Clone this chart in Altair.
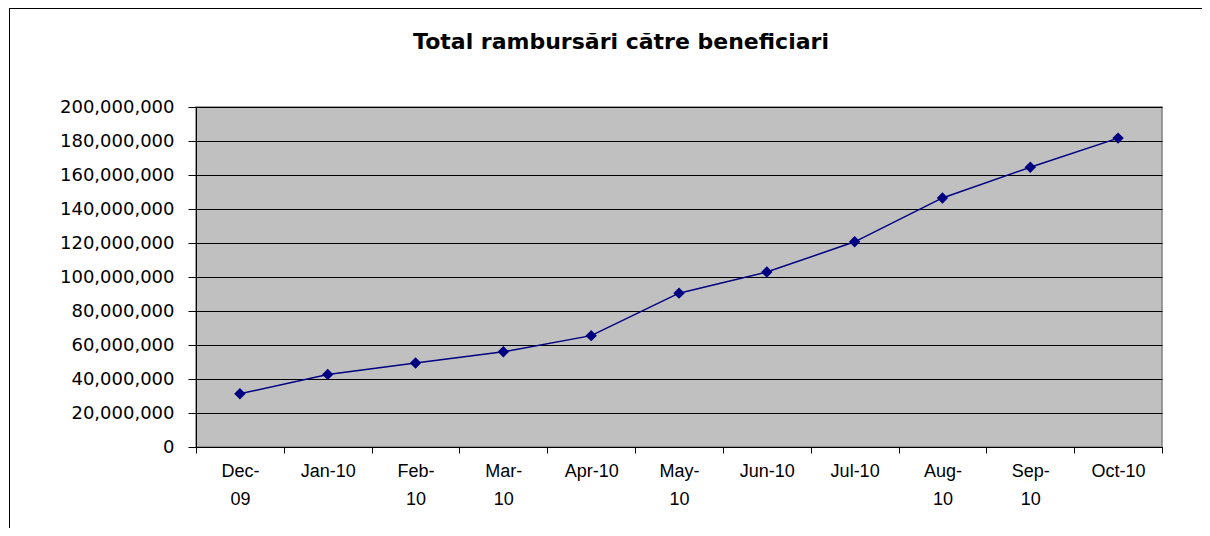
import json
import altair as alt
import pandas as pd

# ---- data ----
months = ["Dec-09", "Jan-10", "Feb-10", "Mar-10", "Apr-10", "May-10",
          "Jun-10", "Jul-10", "Aug-10", "Sep-10", "Oct-10"]
values = [31300000, 42700000, 49400000, 56000000, 65500000, 90500000,
          102900000, 120700000, 146500000, 164600000, 181700000]
wrapped = ["Dec-09", "Feb-10", "Mar-10", "May-10", "Aug-10", "Sep-10"]
y_ticks = [0, 20000000, 40000000, 60000000, 80000000, 100000000,
           120000000, 140000000, 160000000, 180000000, 200000000]
title_text = "Total rambursări către beneficiari"

df = pd.DataFrame({"idx": list(range(len(months))), "month": months, "value": values})

label_list = [[m[:4], m[4:]] if m in wrapped else m for m in months]
label_expr = json.dumps(label_list, ensure_ascii=False) + "[round(datum.value)]"
band_edges = [i - 0.5 for i in range(len(months) + 1)]

W, H = 966, 340
PAD_L, PAD_T = 188, 99
PAD_R = 1194 - PAD_L - W
PAD_B = 520 - PAD_T - H

x_scale = alt.Scale(domain=[-0.5, len(months) - 0.5], nice=False, zero=False)
y_scale = alt.Scale(domain=[0, 200000000], nice=False)

y_axis = alt.Axis(values=y_ticks, labelExpr="format(datum.value, ',')", title=None,
                  labelFont="DejaVu Sans", labelFontSize=18, labelColor="black",
                  labelPadding=14, tickSize=8, tickColor="black",
                  domainColor="black", gridColor="black", gridWidth=1,
                  grid=True, labelOverlap=False)

base = alt.Chart(df)

line = base.mark_line(color="#000080", strokeWidth=1.5).encode(
    x=alt.X("idx:Q", scale=x_scale,
            axis=alt.Axis(orient="bottom", values=band_edges, labels=False,
                          ticks=True, tickSize=6, tickColor="black",
                          domain=True, domainColor="black", grid=False,
                          title=None)),
    y=alt.Y("value:Q", scale=y_scale, axis=y_axis),
)

points = base.mark_point(shape="diamond", filled=True, color="#000080",
                         size=130, opacity=1).encode(
    x=alt.X("idx:Q", scale=x_scale,
            axis=alt.Axis(orient="bottom", values=list(range(len(months))),
                          labelExpr=label_expr, ticks=False, domain=False,
                          grid=False, title=None,
                          labelFont="Liberation Sans Narrow, Arial",
                          labelFontSize=18, labelColor="black",
                          labelBaseline="top", labelPadding=15,
                          labelLineHeight=28)),
    y=alt.Y("value:Q", scale=y_scale, axis=y_axis),
)

one = alt.Data(values=[{"a": 1}])

top_edge = alt.Chart(one).mark_rule(color="black", strokeWidth=1, clip=False).encode(
    x=alt.value(9 - 8 - PAD_L),
    x2=alt.value(W + PAD_R + 20),
    y=alt.value(8 - 8 - PAD_T + 0.5),
)
left_edge = alt.Chart(one).mark_rule(color="black", strokeWidth=1, clip=False).encode(
    x=alt.value(9 - 8 - PAD_L + 0.5),
    y=alt.value(8 - 8 - PAD_T),
    y2=alt.value(H + PAD_B + 20),
)

title = alt.Chart(one).mark_text(
    font="DejaVu Sans", fontSize=22, fontWeight="bold", color="black",
    align="center", baseline="alphabetic", clip=False
).encode(
    x=alt.value(621 - 8 - PAD_L),
    y=alt.value(49 - 8 - PAD_T),
    text=alt.value(title_text),
)

chart = alt.layer(top_edge, left_edge, line, points, title).resolve_axis(x="independent").properties(
    width=W, height=H,
    autosize=alt.AutoSizeParams(type="none"),
    padding={"left": PAD_L, "top": PAD_T, "right": PAD_R, "bottom": PAD_B},
).configure(background="white"
).configure_view(fill="#C0C0C0", stroke="#808080", strokeWidth=1.5)

chart.save("out.html", embed_options={"renderer": "svg", "actions": False})
